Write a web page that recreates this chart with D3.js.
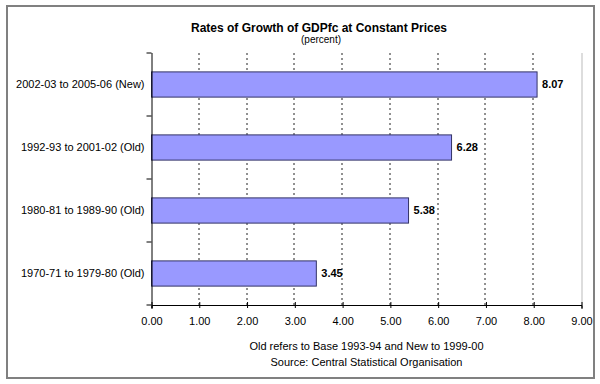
<!DOCTYPE html>
<html>
<head>
<meta charset="utf-8">
<script src="https://cdn.jsdelivr.net/npm/d3@7"></script>
<style>
  body { margin: 0; background: #fff; }
  svg { font-family: "Liberation Sans", Arial, sans-serif; }
</style>
</head>
<body>
<div id="chart"></div>
<script>
// Data
const periods = [
    "2002-03 to 2005-06 (New)",
    "1992-93 to 2001-02 (Old)",
    "1980-81 to 1989-90 (Old)",
    "1970-71 to 1979-80 (Old)"
];
const growthRates = [8.07, 6.28, 5.38, 3.45];
const xTicks = [0, 1, 2, 3, 4, 5, 6, 7, 8, 9];
const titleText = "Rates of Growth of GDPfc at Constant Prices";
const subtitleText = "(percent)";
const notes = [
    "Old refers to Base 1993-94 and New to 1999-00",
    "Source: Central Statistical Organisation"
];

const width = 600, height = 384;
const margin = { top: 53, right: 18.5, bottom: 79, left: 151.5 };
const innerW = width - margin.left - margin.right;
const innerH = height - margin.top - margin.bottom;

const svg = d3.select("#chart").append("svg")
    .attr("width", width)
    .attr("height", height);

// outer frame
svg.append("rect")
    .attr("x", 7).attr("y", 6)
    .attr("width", 587).attr("height", 372)
    .attr("fill", "#fff")
    .attr("stroke", "#808080")
    .attr("stroke-width", 2);

const g = svg.append("g")
    .attr("transform", `translate(${margin.left},${margin.top})`);

const x = d3.scaleLinear().domain([0, 9]).range([0, innerW]);
const y = d3.scaleBand().domain(periods).range([0, innerH]).paddingInner(0.6).paddingOuter(0.3);
const yBand = d3.scaleBand().domain(periods).range([0, innerH]);

// dashed gridlines
g.append("g")
    .selectAll("line")
    .data(xTicks.filter(t => t > 0 && t < 9))
    .join("line")
    .attr("x1", d => Math.round(x(d)) - 0.5)
    .attr("x2", d => Math.round(x(d)) - 0.5)
    .attr("y1", 0).attr("y2", innerH)
    .attr("stroke", "#222")
    .attr("stroke-width", 1)
    .attr("stroke-dasharray", "2,3");

// light right border of plot area
g.append("line")
    .attr("x1", x(9) + 0.5).attr("x2", x(9) + 0.5)
    .attr("y1", 0).attr("y2", innerH)
    .attr("stroke", "#bbb");

// bars
g.append("g")
    .selectAll("rect")
    .data(growthRates)
    .join("rect")
    .attr("x", x(0))
    .attr("y", (d, i) => y(periods[i]))
    .attr("width", d => x(d) - x(0))
    .attr("height", y.bandwidth())
    .attr("fill", "#9999ff")
    .attr("stroke", "#333366")
    .attr("stroke-width", 1);

// value labels
g.append("g")
    .selectAll("text")
    .data(growthRates)
    .join("text")
    .attr("x", d => x(d) + 5)
    .attr("y", (d, i) => y(periods[i]) + y.bandwidth() / 2)
    .attr("dy", "0.35em")
    .attr("font-size", 11)
    .attr("font-weight", "bold")
    .attr("fill", "#000")
    .text(d => d.toFixed(2));

// bottom axis
const xAxis = g.append("g")
    .attr("transform", `translate(0,${innerH})`)
    .call(d3.axisBottom(x).tickValues(xTicks).tickFormat(d3.format(".2f")).tickSize(4).tickPadding(8));
xAxis.select(".domain").attr("stroke", "#000");
xAxis.selectAll(".tick line").attr("y1", -3).attr("y2", 3).attr("stroke", "#000");
xAxis.selectAll("text")
    .attr("font-size", 11)
    .attr("font-family", "'Liberation Sans', Arial, sans-serif")
    .attr("fill", "#000");

// left axis with ticks between categories
g.append("line")
    .attr("x1", 0.5).attr("x2", 0.5)
    .attr("y1", 0).attr("y2", innerH + 3)
    .attr("stroke", "#000");
g.append("g")
    .selectAll("line")
    .data(periods.concat(["end"]))
    .join("line")
    .attr("x1", -5).attr("x2", 0)
    .attr("y1", (d, i) => i * yBand.step())
    .attr("y2", (d, i) => i * yBand.step())
    .attr("stroke", "#000");

// category labels
g.append("g")
    .selectAll("text")
    .data(periods)
    .join("text")
    .attr("x", -7)
    .attr("y", d => yBand(d) + yBand.bandwidth() / 2)
    .attr("dy", "0.35em")
    .attr("text-anchor", "end")
    .attr("font-size", 11)
    .attr("fill", "#000")
    .text(d => d);

// titles
svg.append("text")
    .attr("x", 319).attr("y", 32)
    .attr("text-anchor", "middle")
    .attr("font-size", 12)
    .attr("font-weight", "bold")
    .text(titleText);
svg.append("text")
    .attr("x", 321).attr("y", 43)
    .attr("text-anchor", "middle")
    .attr("font-size", 10)
    .text(subtitleText);

// footnotes
svg.append("g")
    .selectAll("text")
    .data(notes)
    .join("text")
    .attr("x", margin.left + innerW / 2)
    .attr("y", (d, i) => 350 + i * 16)
    .attr("text-anchor", "middle")
    .attr("font-size", 11)
    .text(d => d);
</script>
</body>
</html>
